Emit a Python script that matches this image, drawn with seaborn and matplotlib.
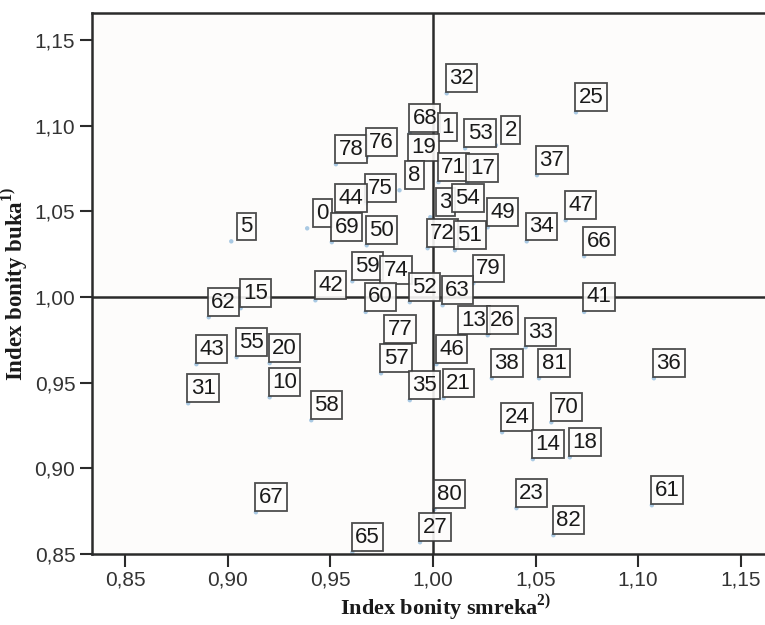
import numpy as np
import pandas as pd
import seaborn as sns
import matplotlib.pyplot as plt
from matplotlib import transforms
from matplotlib.ticker import FuncFormatter

# Label ids and their positions (index bonity smreka, index bonity buka)
ids = ["32", "25", "68", "1", "53", "2", "78", "76", "19", "37", "8", "71", "17",
       "75", "44", "0", "3", "54", "49", "47", "5", "69", "50", "34", "72", "51",
       "66", "59", "74", "79", "42", "52", "63", "15", "62", "60", "41", "13", "26",
       "33", "77", "55", "20", "43", "46", "57", "38", "81", "36", "35", "21", "10",
       "31", "58", "24", "70", "14", "18", "67", "80", "23", "61", "82", "27", "65"]
smreka = [1.014, 1.077, 0.996, 1.007, 1.023, 1.038, 0.960, 0.975, 0.9955, 1.058,
          0.991, 1.010, 1.024, 0.9745, 0.960, 0.946, 1.006, 1.017, 1.034, 1.072,
          0.909, 0.958, 0.975, 1.053, 1.0047, 1.018, 1.081, 0.968, 0.982, 1.027,
          0.950, 0.996, 1.012, 0.9136, 0.898, 0.9745, 1.081, 1.020, 1.034, 1.0525,
          0.984, 0.9116, 0.9277, 0.892, 1.009, 0.982, 1.036, 1.059, 1.115, 0.996,
          1.0125, 0.9277, 0.888, 0.948, 1.041, 1.065, 1.056, 1.074, 0.921, 1.008,
          1.048, 1.114, 1.066, 1.001, 0.968]
buka = [1.1276, 1.1165, 1.1043, 1.099, 1.0955, 1.0973, 1.0862, 1.0903, 1.0873, 1.0798,
        1.071, 1.0757, 1.0751, 1.0634, 1.0576, 1.0488, 1.0553, 1.0576, 1.0494, 1.0535,
        1.0412, 1.0407, 1.0389, 1.0412, 1.0372, 1.036, 1.0325, 1.0179, 1.0156, 1.0167,
        1.0068, 1.0057, 1.0039, 1.0022, 0.9969, 1.000, 1.000, 0.9864, 0.9864, 0.9794,
        0.9812, 0.9736, 0.9701, 0.9695, 0.9695, 0.9642, 0.9613, 0.9613, 0.9613, 0.9485,
        0.9497, 0.9502, 0.9467, 0.9368, 0.9298, 0.9356, 0.9141, 0.9152, 0.8831, 0.8849,
        0.8855, 0.8872, 0.8697, 0.8656, 0.8598]

xticks = [0.85, 0.90, 0.95, 1.00, 1.05, 1.10, 1.15]
yticks = [0.85, 0.90, 0.95, 1.00, 1.05, 1.10, 1.15]

df = pd.DataFrame({"id": ids, "smreka": smreka, "buka": buka})

sns.set_style("white")
plt.rcParams["font.family"] = ["Liberation Sans", "DejaVu Sans"]
plt.rcParams["mathtext.fontset"] = "custom"
plt.rcParams["mathtext.rm"] = "Liberation Serif"
plt.rcParams["mathtext.bf"] = "Liberation Serif:bold"

bg = "#fdfcfb"
dark = "#2b2b2b"

fig = plt.figure(figsize=(7.65, 6.25), dpi=100)
fig.patch.set_facecolor("white")
# axes run a bit past the right edge of the picture, as in the original
ax = fig.add_axes([92 / 765, 1 - 554 / 625, 708 / 765, 541 / 625])
ax.set_facecolor(bg)

# small points, drawn just off the lower-left corner of each label box
offset = transforms.offset_copy(ax.transData, fig=fig, x=-15, y=-15, units="dots")
sns.scatterplot(data=df, x="smreka", y="buka", ax=ax, s=10, color="#a9c9e3",
                edgecolor="none", transform=offset, zorder=2, legend=False)

ax.axvline(1.0, color=dark, lw=1.8, zorder=3)
ax.axhline(1.0, color=dark, lw=1.8, zorder=3)

for _, r in df.iterrows():
    ax.text(r["smreka"], r["buka"], r["id"], ha="center", va="center",
            fontsize=16, color="#1a1a1a", zorder=4,
            bbox=dict(boxstyle="square,pad=0.15", fc=bg, ec="#3a3a3a", lw=1.3, alpha=0.9))

ax.set_xlim(0.8338, 1.1789)
ax.set_ylim(0.85, 1.1657)
ax.set_xticks(xticks)
ax.set_yticks(yticks)
fmt = FuncFormatter(lambda v, _: f"{v:.2f}".replace(".", ","))
ax.xaxis.set_major_formatter(fmt)
ax.yaxis.set_major_formatter(fmt)
ax.tick_params(axis="both", which="major", direction="out", length=9, width=1.5,
               color=dark, labelsize=15, labelcolor="#333333", pad=3)
ax.tick_params(bottom=True, left=True, top=False, right=False)

for side in ["left", "bottom", "top"]:
    ax.spines[side].set_color(dark)
    ax.spines[side].set_linewidth(1.8)
ax.spines["right"].set_visible(False)

ax.set_xlabel(r"Index bonity smreka$^{\mathbf{2)}}$", fontsize=16,
              family="Liberation Serif", fontweight="bold", color="#1a1a1a", labelpad=2)
ax.set_ylabel(r"Index bonity buka$^{\mathbf{1)}}$", fontsize=16.5,
              family="Liberation Serif", fontweight="bold", color="#1a1a1a", labelpad=4)

fig.savefig("out.png", dpi=100)
